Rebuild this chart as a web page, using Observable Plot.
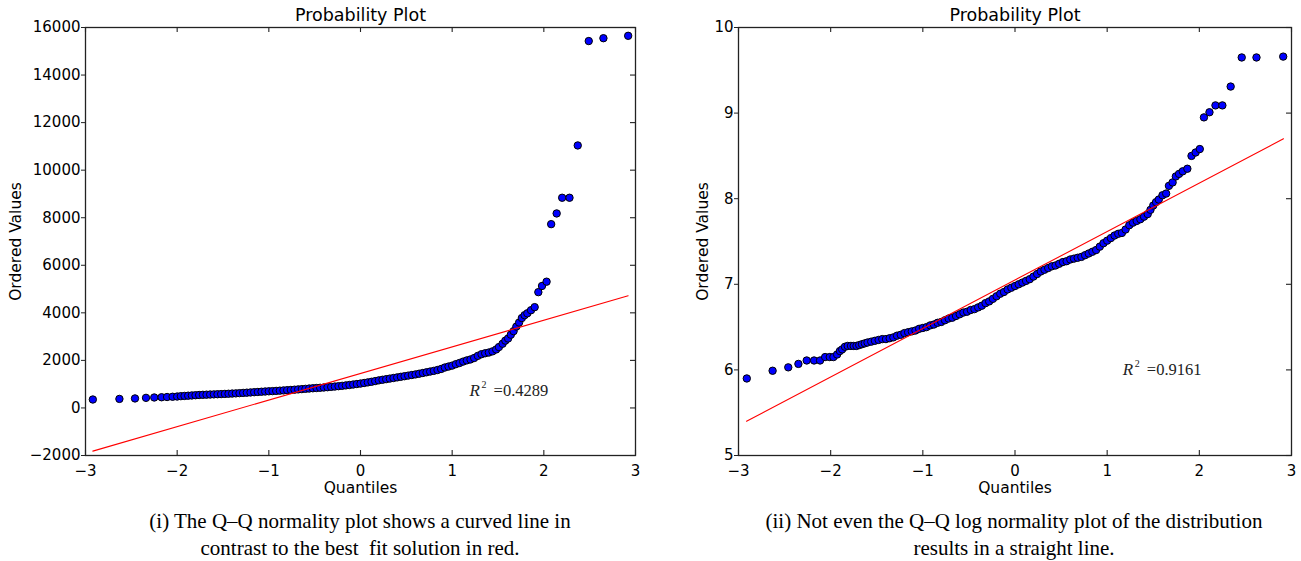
<!DOCTYPE html>
<html>
<head>
<meta charset="utf-8">
<script src="https://cdn.jsdelivr.net/npm/d3@7"></script>
<script src="https://cdn.jsdelivr.net/npm/@observablehq/plot@0.6"></script>
<style>
  html, body { margin: 0; padding: 0; background: #fff; }
  #wrap { position: relative; width: 1301px; height: 561px; overflow: hidden; background: #fff; }
  .panel { position: absolute; top: 0; }
  .caption { position: absolute; top: 508px; width: 640px; text-align: center;
             font-family: "Liberation Serif", "Times New Roman", serif; font-size: 21px;
             line-height: 27px; color: #000; }
</style>
</head>
<body>
<div id="wrap">
  <div id="left" class="panel" style="left:0px"></div>
  <div id="right" class="panel" style="left:650px"></div>
  <div class="caption" style="left:40px">(i) The Q–Q normality plot shows a curved line in<br>contrast to the best&nbsp; fit solution in red.</div>
  <div class="caption" style="left:694px">(ii) Not even the Q–Q log normality plot of the distribution<br>results in a straight line.</div>
</div>
<script>
// ---------- data ----------
const xTicks = [-3, -2, -1, 0, 1, 2, 3];
const leftYTicks = [-2000, 0, 2000, 4000, 6000, 8000, 10000, 12000, 14000, 16000];
const rightYTicks = [5, 6, 7, 8, 9, 10];

const leftQ = [-2.92,-2.63,-2.46,-2.34,-2.25,-2.17,-2.11,-2.05,-2.00,-1.96,-1.92,-1.88,-1.84,-1.80,-1.76,-1.72,-1.68,
  -1.64,-1.60,-1.56,-1.52,-1.48,-1.44,-1.40,-1.36,-1.32,-1.28,-1.24,-1.20,-1.16,-1.12,-1.08,-1.04,-1.00,-0.96,-0.92,-0.88,
  -0.84,-0.80,-0.76,-0.72,-0.68,-0.64,-0.60,-0.56,-0.52,-0.48,-0.44,-0.40,-0.36,-0.32,-0.28,-0.24,-0.20,-0.16,-0.12,-0.08,
  -0.04,0.00,0.04,0.08,0.12,0.16,0.20,0.24,0.28,0.32,0.36,0.40,0.44,0.48,0.52,0.56,0.60,0.64,0.68,0.72,0.76,0.80,0.84,0.88,
  0.92,0.96,1.00,1.04,1.08,1.12,1.16,1.20,1.24,1.28,1.32,1.36,1.40,1.44,1.48,
  1.51,1.55,1.58,1.61,1.64,1.67,1.70,1.73,1.76,1.79,1.82,1.86,1.90,1.94,1.98,2.03,2.08,2.14,2.20,2.28,2.37,2.49,2.65,2.92];
const leftV = [355,380,400,425,440,450,460,470,480,495,505,515,525,535,545,552,558,
  565,570,577,583,590,597,605,613,622,632,642,652,662,672,682,692,700,708,717,727,
  737,747,757,768,780,792,804,816,828,838,848,860,872,886,900,915,930,948,966,985,
  1005,1025,1050,1075,1100,1130,1160,1185,1210,1235,1260,1285,1310,1335,1360,1385,1410,1440,1470,1500,1530,1560,1595,1640,
  1700,1740,1780,1840,1890,1950,2000,2040,2100,2190,2260,2300,2330,2380,2460,
  2560,2700,2830,2920,3080,3230,3420,3590,3780,3900,3980,4110,4240,4870,5130,5310,7730,8180,8840,8840,11040,15430,15550,15650];
const leftFitQ = [-2.92, 2.92];
const leftFitV = [-1815, 4716];
const leftR2 = "0.4289";

const rightQ = [-2.91,-2.63,-2.46,-2.35,-2.26,-2.18,-2.115,-2.06,-2.01,-1.97,-1.93,-1.90,-1.875,-1.845,-1.815,-1.78,-1.75,-1.72,-1.69,-1.66,-1.63,
  -1.60,-1.56,-1.52,-1.48,-1.44,-1.40,-1.36,-1.32,-1.28,-1.24,-1.20,-1.16,-1.12,-1.08,-1.04,-1.00,-0.96,-0.92,-0.88,-0.84,
  -0.80,-0.76,-0.72,-0.68,-0.64,-0.60,-0.56,-0.52,-0.48,-0.44,-0.40,-0.36,-0.32,-0.28,-0.24,-0.20,-0.16,-0.12,-0.08,-0.04,
  0.00,0.04,0.08,0.12,0.16,0.20,0.24,0.28,0.32,0.36,0.40,0.44,0.48,0.52,0.56,0.60,0.64,0.68,0.72,0.76,
  0.80,0.84,0.88,0.92,0.96,1.00,1.04,1.08,1.12,1.16,1.20,1.24,1.28,1.32,1.36,1.40,1.44,
  1.47,1.50,1.53,1.56,1.60,1.64,1.67,1.71,1.745,1.78,1.82,1.87,1.915,1.96,2.005,2.05,2.11,2.175,2.25,2.34,2.46,2.62,2.91];
const rightV = [5.90,5.99,6.03,6.07,6.11,6.11,6.11,6.15,6.15,6.15,6.18,6.22,6.24,6.27,6.28,6.28,6.28,6.28,6.29,6.30,6.31,
  6.32,6.33,6.34,6.35,6.36,6.36,6.37,6.38,6.40,6.41,6.43,6.44,6.45,6.46,6.48,6.49,6.50,6.52,6.53,6.55,
  6.56,6.58,6.60,6.61,6.63,6.65,6.67,6.68,6.70,6.71,6.73,6.75,6.78,6.80,6.83,6.86,6.89,6.91,6.94,6.96,
  6.98,7.00,7.02,7.04,7.06,7.09,7.12,7.15,7.17,7.19,7.21,7.22,7.24,7.26,7.27,7.29,7.30,7.31,7.32,7.34,
  7.36,7.38,7.40,7.44,7.48,7.51,7.54,7.57,7.59,7.60,7.64,7.69,7.72,7.74,7.76,7.79,7.82,
  7.87,7.92,7.96,7.99,8.04,8.06,8.15,8.19,8.26,8.29,8.32,8.35,8.50,8.54,8.58,8.95,9.01,9.09,9.09,9.31,9.65,9.65,9.66];
const rightFitQ = [-2.913, 2.913];
const rightFitV = [5.40, 8.70];
const rightR2 = "0.9161";

// ---------- drawing ----------
const H = 500, MT = 27, MB = 45;
const frameH = H - MT - MB;
const fmt = d3.format("d");

function panel({q, v, fitQ, fitV, yDomain, yTicks, r2, r2x, r2y, width, ml, mr, labelDx}) {
  const pts = q.map((d, i) => ({q: d, v: v[i]}));
  const fit = fitQ.map((d, i) => ({q: d, v: fitV[i]}));
  const frameW = width - ml - mr;
  const axisColor = "#222";
  return Plot.plot({
    width, height: H,
    marginLeft: ml, marginRight: mr, marginTop: MT, marginBottom: MB,
    style: {fontFamily: "DejaVu Sans, sans-serif", fontSize: "15px", background: "transparent", overflow: "visible", color: "#000"},
    x: {domain: [-3, 3]},
    y: {domain: yDomain},
    marks: [
      Plot.dot(pts, {x: "q", y: "v", r: 3.7, fill: "#0000ff", stroke: "#000", strokeWidth: 1}),
      Plot.line(fit, {x: "q", y: "v", stroke: "#ff0000", strokeWidth: 1.1}),
      Plot.frame({stroke: axisColor, strokeWidth: 1.3}),
      Plot.tickX(xTicks, {x: d => d, insetTop: frameH - 5, stroke: axisColor, strokeWidth: 1.1}),
      Plot.tickX(xTicks, {x: d => d, insetBottom: frameH - 5, stroke: axisColor, strokeWidth: 1.1}),
      Plot.tickY(yTicks, {y: d => d, insetLeft: frameW - 5, stroke: axisColor, strokeWidth: 1.1}),
      Plot.axisX(xTicks, {anchor: "bottom", tickSize: 0, tickPadding: 9.5, tickFormat: fmt, label: null, fontSize: 15}),
      Plot.axisY(yTicks, {anchor: "left", tickSize: 4, tickPadding: 1, tickFormat: fmt, label: null, fontSize: 15, stroke: axisColor}),
      Plot.text(["Probability Plot"], {frameAnchor: "top", dy: -12, text: d => d, fontSize: 17.5, lineAnchor: "middle"}),
      Plot.text(["Quantiles"], {frameAnchor: "bottom", dy: 33, text: d => d, fontSize: 15.5, lineAnchor: "middle"}),
      Plot.text(["Ordered Values"], {frameAnchor: "left", dx: labelDx, rotate: -90, text: d => d, fontSize: 15.5, lineAnchor: "middle", textAnchor: "middle"}),
      Plot.text([{x: r2x, y: r2y}], {x: "x", y: "y", text: () => "R", textAnchor: "start", lineAnchor: "middle", fontFamily: "Liberation Serif, serif", fontStyle: "italic", fontSize: 17, fill: "#222"}),
      Plot.text([{x: r2x, y: r2y}], {x: "x", y: "y", text: () => "2", dx: 12, dy: -6, textAnchor: "start", lineAnchor: "middle", fontFamily: "Liberation Serif, serif", fontSize: 10, fill: "#222"}),
      Plot.text([{x: r2x, y: r2y}], {x: "x", y: "y", text: () => "=" + r2, dx: 24, textAnchor: "start", lineAnchor: "middle", fontFamily: "Liberation Serif, serif", fontSize: 16.5, fill: "#222"})
    ]
  });
}

document.getElementById("left").append(panel({
  q: leftQ, v: leftV, fitQ: leftFitQ, fitV: leftFitV,
  yDomain: [-2000, 16000], yTicks: leftYTicks, r2: leftR2, r2x: 1.19, r2y: 721,
  width: 650, ml: 85, mr: 15, labelDx: -69
}));
document.getElementById("right").append(panel({
  q: rightQ, v: rightV, fitQ: rightFitQ, fitV: rightFitV,
  yDomain: [5, 10], yTicks: rightYTicks, r2: rightR2, r2x: 1.17, r2y: 6.0,
  width: 651, ml: 88, mr: 10, labelDx: -35
}));
</script>
</body>
</html>
